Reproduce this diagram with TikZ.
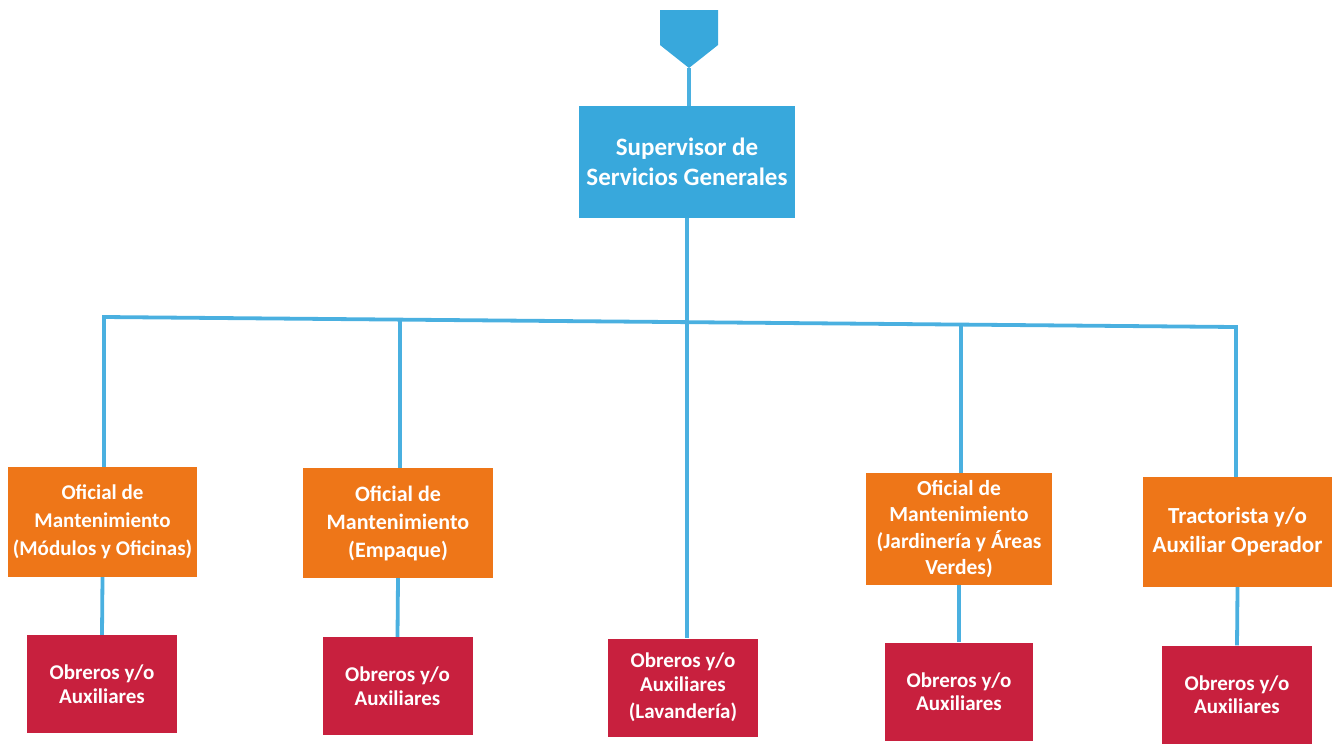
\documentclass[tikz,border=0pt]{standalone}
\usepackage{fontspec}
\setmainfont{Carlito}
\definecolor{supblue}{RGB}{56,168,220}
\definecolor{lineblue}{RGB}{74,176,224}
\definecolor{offorange}{RGB}{238,118,24}
\definecolor{obred}{RGB}{200,32,62}
\tikzset{
  box/.style={rectangle, text=white, font=\bfseries, align=center, inner sep=0pt},
  supbox/.style={box, fill=supblue, minimum width=216pt, minimum height=112pt, font=\fontsize{25}{30}\selectfont\bfseries},
  offbox/.style={box, fill=offorange, font=\fontsize{22}{28}\selectfont\bfseries},
  obbox/.style={box, fill=obred, minimum width=150pt, minimum height=98pt, font=\fontsize{21}{23.5}\selectfont\bfseries},
  conn/.style={draw=lineblue, line width=3.8pt},
}
\begin{document}
\begin{tikzpicture}[x=1pt,y=-1pt]
\useasboundingbox (0,0) rectangle (1332,745);
% top off-page connector
\coordinate (tip) at (689,68);
\fill[supblue] (660,10) -- (718,10) -- (718,45) -- (tip) -- (660,45) -- cycle;
% nodes
\node[supbox] (sup) at (687,162) {Supervisor de\\Servicios Generales};
\node[offbox, minimum width=189pt, minimum height=110pt, font=\fontsize{21}{28}\selectfont\bfseries] (o1) at (102.5,522) {Oficial de\\Mantenimiento\\(Módulos y Oficinas)};
\node[offbox, minimum width=190pt, minimum height=110pt] (o2) at (398,523) {Oficial de\\Mantenimiento\\(Empaque)};
\node[offbox, minimum width=186pt, minimum height=112pt, font=\fontsize{21.5}{26.5}\selectfont\bfseries] (o3) at (959,529) {Oficial de\\Mantenimiento\\(Jardinería y Áreas\\Verdes)};
\node[offbox, minimum width=189pt, minimum height=110pt, font=\fontsize{23}{29}\selectfont\bfseries] (o4) at (1237.5,532) {Tractorista y/o\\Auxiliar Operador};
\node[obbox] (r1) at (102,684) {Obreros y/o\\Auxiliares};
\node[obbox] (r2) at (397.5,686) {Obreros y/o\\Auxiliares};
\node[obbox] (r3) at (683,687.5) {Obreros y/o\\Auxiliares\\[4pt](Lavandería)};
\node[obbox, minimum width=148pt] (r4) at (959,691.5) {Obreros y/o\\Auxiliares};
\node[obbox] (r5) at (1237,694.5) {Obreros y/o\\Auxiliares};
% bus coordinates
\coordinate (b1) at (104,317);
\coordinate (b2) at (400,319.6);
\coordinate (b3) at (687,322.1);
\coordinate (b4) at (961,324.6);
\coordinate (b5) at (1236,327);
% connectors
\path[conn] (tip) -- (tip |- sup.north);
\path[conn] (sup.south) -- (b3);
\path[conn, line cap=rect] (b1) -- (b5);
\path[conn] (b1) -- (b1 |- o1.north);
\path[conn] (b2) -- (b2 |- o2.north);
\path[conn] (b4) -- (b4 |- o3.north);
\path[conn] (b5) -- (b5 |- o4.north);
\path[conn] (b3) -- (b3 |- r3.north);
\path[conn] (o1.south) -- (r1.north);
\path[conn] (o2.south) -- (r2.north);
\path[conn] (o3.south) -- (r4.north);
\path[conn] (o4.south) -- (r5.north);
\end{tikzpicture}
\end{document}
